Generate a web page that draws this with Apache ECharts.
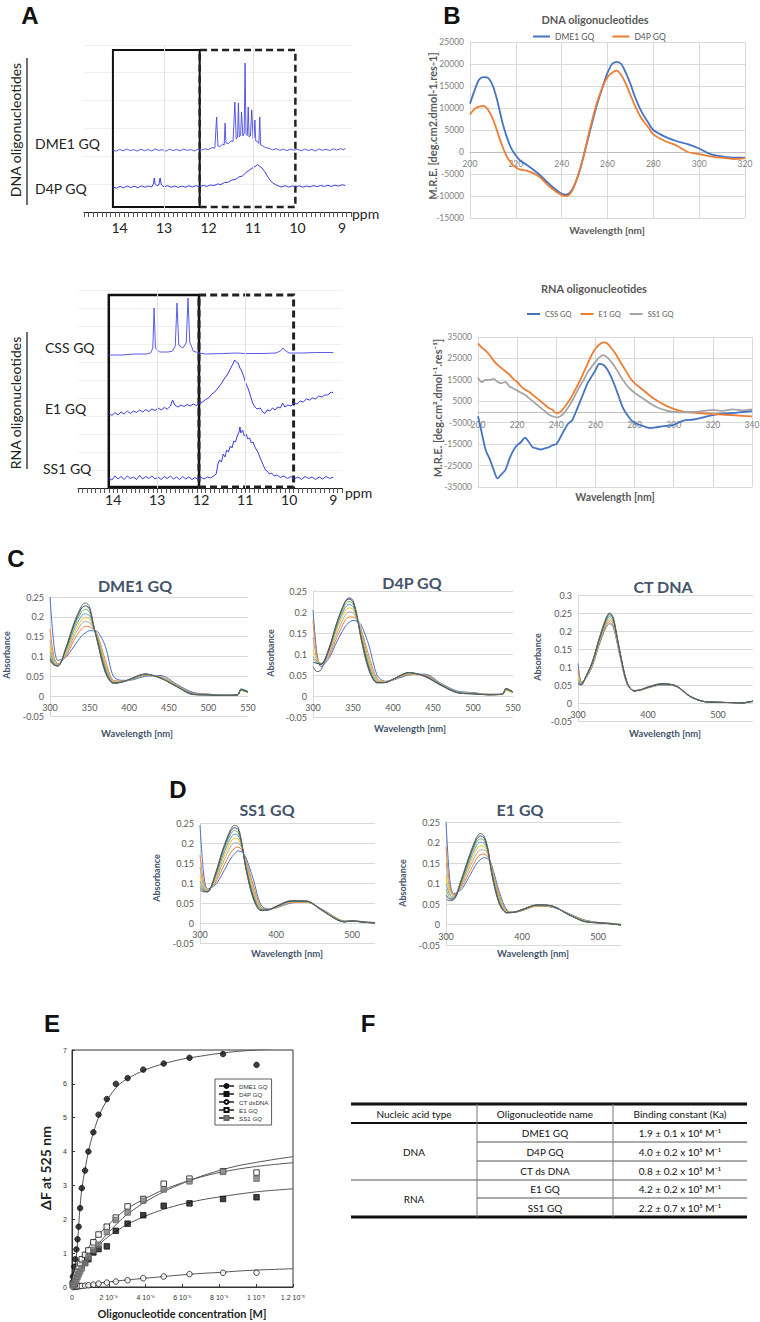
<!DOCTYPE html>
<html>
<head>
<meta charset="utf-8">
<title>G-quadruplex binding figure</title>
<script src="https://cdn.jsdelivr.net/npm/echarts@6/dist/echarts.min.js"></script>
<style>
  html, body { margin: 0; padding: 0; background: #fff; }
  #page { position: relative; width: 760px; height: 1322px; overflow: hidden; }
  .layer { position: absolute; left: 0; top: 0; width: 760px; height: 1322px; }
</style>
</head>
<body>
<div id="page"></div>
<script>
// ---------- A: 1H NMR imino region, [ppm, intensity a.u.] ----------
const nmrDme1 = [[14.15,62],[14.08,60.8],[14.0,62.6],[13.92,61.2],[13.84,63],[13.76,61.4],[13.68,62.4],[13.6,60.9],[13.52,62.8],[13.44,61.3],[13.36,62.5],[13.28,61],[13.2,63.1],[13.12,61.5],[13.04,62.3],[12.96,60.8],[12.88,62.9],[12.8,61.4],[12.72,62.6],[12.64,61.1],[12.56,63],[12.48,61.6],[12.4,62.4],[12.32,61],[12.24,62.8],[12.16,61.7],[12.08,63.2],[12.0,62.4],[11.92,64.5],[11.86,63.8],[11.82,95],[11.79,66],[11.74,65.5],[11.68,68],[11.65,67],[11.63,89],[11.61,69],[11.55,68.5],[11.5,71],[11.45,70.5],[11.41,110],[11.38,73],[11.35,74.5],[11.33,109],[11.31,75],[11.28,77],[11.26,100],[11.23,76],[11.2,79],[11.18,149],[11.16,78],[11.13,76.5],[11.11,105],[11.09,75],[11.06,76],[11.03,102],[11.0,73],[10.98,74],[10.96,92],[10.94,71],[10.9,70.5],[10.87,68.5],[10.85,95],[10.83,67],[10.78,66],[10.72,64.5],[10.64,63.6],[10.56,62.2],[10.48,63.4],[10.4,61.6],[10.32,62.9],[10.24,61.3],[10.16,63],[10.08,61.8],[10.0,62.7],[9.92,61.2],[9.84,62.9],[9.76,61.5],[9.68,62.6],[9.6,61],[9.52,63],[9.44,61.7],[9.36,62.8],[9.28,61.4],[9.2,63.2],[9.12,61.8],[9.04,63.4],[8.96,62.2],[8.93,64]]
const nmrD4p = [[14.15,25],[14.07,23.8],[13.99,25.6],[13.91,24.2],[13.83,26],[13.75,24.5],[13.67,25.8],[13.59,24.3],[13.51,26.1],[13.43,24.8],[13.35,26],[13.28,25],[13.24,28],[13.22,34],[13.2,28],[13.16,26.2],[13.12,27],[13.09,34],[13.06,27],[13.0,25.2],[12.92,26.3],[12.84,24.7],[12.76,26],[12.68,24.6],[12.6,25.9],[12.52,24.8],[12.44,26.2],[12.36,25],[12.28,26.4],[12.2,25.2],[12.12,26.6],[12.04,25.6],[11.96,27],[11.88,26.5],[11.8,28],[11.72,27.5],[11.64,29.5],[11.56,29.8],[11.48,32],[11.4,32.5],[11.32,35],[11.24,36],[11.16,39.5],[11.08,42],[11.0,44.5],[10.94,46],[10.9,47.5],[10.86,46],[10.8,44],[10.74,40.5],[10.68,36],[10.62,32],[10.56,29],[10.5,27.5],[10.44,26.2],[10.36,25],[10.28,26.3],[10.2,24.9],[10.12,26.1],[10.04,25],[9.96,26.2],[9.88,24.8],[9.8,26],[9.72,25.1],[9.64,26.4],[9.56,25.3],[9.48,26.6],[9.4,25.5],[9.32,26.7],[9.24,25.6],[9.16,26.8],[9.08,25.9],[9.0,27.2],[8.93,26.5]]
const nmrCss = [[14.1,133],[13.8,133],[13.5,134],[13.25,134],[13.15,135],[13.1,140],[13.07,180],[13.04,140],[12.95,136],[12.75,136],[12.65,137],[12.59,142],[12.55,185],[12.51,143],[12.42,140],[12.34,145],[12.3,190],[12.26,146],[12.18,137],[12.05,135],[11.9,134],[11.5,134.5],[11.2,135],[11.0,134.5],[10.6,134.5],[10.3,135],[10.2,137],[10.14,140],[10.08,137],[10.0,135],[9.7,135],[9.4,135.5],[9.0,135.5]]
const nmrE1 = [[14.1,75],[14.03,72.5],[13.96,75.5],[13.89,73],[13.82,76],[13.75,74],[13.68,77],[13.61,74.5],[13.54,77],[13.47,75.5],[13.4,78],[13.33,76],[13.26,78.5],[13.19,76.5],[13.12,79],[13.05,77.5],[12.98,80],[12.91,78],[12.84,80.5],[12.77,79],[12.7,82],[12.65,88],[12.6,83],[12.53,81],[12.46,83],[12.39,81.5],[12.32,83.5],[12.25,82],[12.18,84],[12.11,82.5],[12.04,85],[11.97,86],[11.9,88.5],[11.83,90],[11.76,94],[11.69,96],[11.62,100],[11.55,104],[11.48,109],[11.41,113],[11.34,119],[11.28,124],[11.24,128],[11.2,126],[11.16,125],[11.12,120],[11.08,117],[11.03,111],[10.98,104],[10.93,99],[10.88,92],[10.83,85],[10.78,81],[10.73,79],[10.66,80],[10.6,76],[10.55,74.5],[10.5,78],[10.44,77],[10.38,80],[10.32,78],[10.26,81],[10.2,80],[10.15,85],[10.1,81],[10.03,83],[9.96,82],[9.89,85],[9.82,84],[9.75,87],[9.68,86],[9.61,89],[9.54,88],[9.47,90],[9.4,89],[9.33,92],[9.26,91],[9.19,93],[9.12,93],[9.05,96],[9.0,95]]
const nmrSs1 = [[14.1,10],[14.03,8],[13.96,12],[13.89,9],[13.82,11.5],[13.75,8.5],[13.68,12],[13.61,9.5],[13.54,11],[13.47,8.5],[13.4,12.5],[13.33,9],[13.26,11.5],[13.19,9.5],[13.12,12],[13.05,9],[12.98,11],[12.91,8.5],[12.84,11.5],[12.77,9.5],[12.7,12],[12.63,9],[12.56,11],[12.49,8.5],[12.42,11.5],[12.35,9],[12.28,11],[12.21,8.5],[12.14,10.5],[12.07,8.5],[12.0,10.5],[11.93,9],[11.86,11],[11.79,10],[11.72,12],[11.66,14],[11.62,24],[11.58,28],[11.54,26],[11.5,34],[11.46,31],[11.42,38],[11.38,36],[11.34,42],[11.3,40],[11.26,47],[11.22,46],[11.18,52],[11.14,56],[11.12,61],[11.1,55],[11.06,58],[11.02,52],[10.98,54],[10.94,49],[10.9,50],[10.86,45],[10.82,46],[10.78,41],[10.74,38],[10.7,35],[10.66,30],[10.62,26],[10.58,22],[10.54,18],[10.5,17],[10.45,14],[10.4,15],[10.34,12],[10.28,13],[10.2,10.5],[10.12,12],[10.04,9.5],[9.96,11.5],[9.88,9],[9.8,11],[9.72,8.5],[9.64,11.5],[9.56,9.5],[9.48,11],[9.4,8.5],[9.32,11],[9.24,9],[9.16,11.5],[9.08,9.5],[9.0,11]]

// ---------- B: CD spectra, M.R.E. ----------
const cdDnaWl = [200,202,204,206,208,210,212,214,216,218,220,222,225,230,235,240,242,244,246,248,250,252,255,258,260,262,264,266,268,270,272,275,278,280,285,290,295,300,305,310,315,320]
const cdDme1 = [11000,14000,16500,17000,16800,15000,11500,7000,3500,800,-800,-2000,-3000,-5000,-7500,-9500,-9700,-9000,-7000,-4000,0,4000,10000,15000,18000,20000,20500,20000,18000,15500,12500,9000,6500,5000,3500,2500,1800,800,-500,-1000,-1300,-1300]
const cdD4p = [8500,9800,10300,10500,9500,7500,4500,1500,-1000,-2500,-3500,-4000,-4300,-5500,-8000,-9800,-10000,-9300,-7000,-4000,0,4500,10500,15000,17000,18000,18500,17500,15500,13000,10500,7500,5500,4000,2500,1500,0,-500,-1000,-1300,-1600,-1400]
const cdRnaWl = [200,202,204,206,208,210,212,214,216,218,220,222,224,226,228,230,232,234,236,238,240,242,244,246,248,250,252,254,256,258,260,262,264,266,268,270,272,274,276,278,280,284,288,292,296,300,305,310,315,320,325,330,335,340]
const cdCss = [-2000,-10000,-18000,-22000,-27000,-31000,-29000,-27000,-22000,-18000,-15500,-14000,-12000,-14000,-16500,-17000,-17500,-17000,-16500,-15500,-15000,-12000,-8500,-5500,-4000,0,4500,9000,13500,16500,19500,22500,22000,20000,16500,12000,7000,2000,-1000,-3500,-5000,-6500,-7500,-7000,-6500,-6000,-4000,-3500,-2500,-1500,-800,-500,0,500]
const cdE1 = [32000,30000,28500,26500,24000,22000,20500,19000,17500,15500,14000,12000,10500,9500,8000,6500,5000,3500,2000,1000,-500,0,2000,4500,7500,11000,14500,18500,22500,26500,29500,31500,32500,32000,30000,27500,24500,21500,18500,15500,13500,10500,7500,5000,3000,1500,200,-300,-600,-1000,-1200,-1500,-1800,-2000]
const cdSs1 = [16000,14000,15000,15000,15500,14000,13500,14000,12000,11000,10000,9000,8000,6500,5000,3500,2000,500,-1000,-2000,-2500,-2000,-500,2000,5000,8500,12000,15000,18500,21000,23500,25500,26500,25500,23500,21000,18000,15000,12500,10500,9000,6500,4000,2000,800,0,-200,0,500,1000,500,1200,800,1200]

// ---------- C / D: UV-vis titrations, absorbance ----------
const wlC = [300,305,310,320,330,340,345,350,355,360,370,380,390,400,420,440,460,480,500,520,537,541,550]
const uvDme1 = [
  [0.250,0.130,0.090,0.098,0.125,0.152,0.160,0.165,0.165,0.163,0.125,0.050,0.040,0.040,0.050,0.052,0.030,0.010,0.005,0.003,0.004,0.018,0.012],
  [0.170,0.100,0.082,0.100,0.140,0.170,0.176,0.175,0.168,0.155,0.090,0.040,0.038,0.040,0.052,0.049,0.028,0.008,0.005,0.002,0.003,0.016,0.010],
  [0.140,0.092,0.080,0.105,0.150,0.183,0.188,0.185,0.170,0.150,0.080,0.038,0.037,0.040,0.053,0.048,0.027,0.007,0.004,0.002,0.003,0.015,0.010],
  [0.125,0.087,0.078,0.110,0.158,0.193,0.198,0.193,0.172,0.147,0.075,0.036,0.036,0.041,0.054,0.047,0.026,0.006,0.004,0.002,0.003,0.014,0.009],
  [0.112,0.084,0.077,0.114,0.166,0.203,0.208,0.202,0.174,0.144,0.070,0.035,0.036,0.041,0.055,0.046,0.025,0.006,0.004,0.002,0.003,0.015,0.010],
  [0.102,0.081,0.076,0.117,0.173,0.213,0.219,0.211,0.176,0.141,0.066,0.034,0.035,0.042,0.055,0.046,0.025,0.005,0.003,0.002,0.003,0.016,0.010],
  [0.095,0.079,0.076,0.120,0.179,0.222,0.228,0.219,0.178,0.138,0.062,0.033,0.035,0.042,0.056,0.045,0.024,0.005,0.003,0.002,0.003,0.017,0.011],
  [0.090,0.078,0.077,0.122,0.183,0.228,0.235,0.225,0.180,0.135,0.058,0.032,0.035,0.042,0.056,0.045,0.024,0.004,0.003,0.002,0.003,0.018,0.011]
]
const uvD4p = [
  [0.205,0.100,0.070,0.090,0.130,0.165,0.175,0.180,0.178,0.170,0.120,0.050,0.035,0.038,0.050,0.052,0.030,0.012,0.008,0.004,0.004,0.015,0.008],
  [0.180,0.095,0.075,0.095,0.140,0.180,0.188,0.188,0.180,0.160,0.095,0.042,0.034,0.038,0.051,0.050,0.029,0.010,0.007,0.004,0.004,0.014,0.008],
  [0.140,0.088,0.078,0.100,0.150,0.192,0.200,0.198,0.182,0.155,0.085,0.038,0.033,0.038,0.052,0.049,0.028,0.010,0.007,0.004,0.004,0.013,0.008],
  [0.110,0.085,0.078,0.105,0.160,0.202,0.210,0.206,0.184,0.150,0.078,0.036,0.033,0.039,0.053,0.048,0.027,0.009,0.006,0.003,0.004,0.014,0.008],
  [0.095,0.082,0.077,0.108,0.166,0.210,0.218,0.213,0.186,0.146,0.072,0.034,0.032,0.039,0.054,0.048,0.027,0.009,0.006,0.003,0.004,0.016,0.009],
  [0.088,0.080,0.076,0.111,0.171,0.217,0.225,0.219,0.188,0.142,0.068,0.033,0.032,0.040,0.055,0.047,0.026,0.008,0.006,0.003,0.004,0.017,0.009],
  [0.080,0.078,0.075,0.114,0.176,0.223,0.231,0.224,0.190,0.139,0.064,0.032,0.032,0.040,0.056,0.047,0.026,0.008,0.005,0.003,0.005,0.018,0.010],
  [0.070,0.058,0.062,0.110,0.175,0.225,0.234,0.228,0.192,0.136,0.060,0.031,0.032,0.040,0.056,0.046,0.025,0.008,0.005,0.003,0.005,0.018,0.010]
]
const uvCtDna = [
  [0.110,0.058,0.065,0.100,0.160,0.210,0.220,0.212,0.175,0.130,0.052,0.035,0.036,0.042,0.050,0.046,0.018,0.004,0.002,0.001,0.000,0.002,0.004],
  [0.095,0.056,0.066,0.102,0.163,0.214,0.225,0.216,0.178,0.132,0.053,0.035,0.036,0.042,0.051,0.046,0.018,0.004,0.002,0.001,0.000,0.002,0.004],
  [0.085,0.055,0.066,0.104,0.166,0.218,0.230,0.221,0.181,0.134,0.054,0.034,0.036,0.043,0.051,0.047,0.018,0.004,0.002,0.001,0.000,0.002,0.004],
  [0.075,0.054,0.067,0.106,0.168,0.222,0.235,0.225,0.184,0.136,0.055,0.034,0.037,0.043,0.052,0.047,0.018,0.004,0.002,0.001,0.000,0.002,0.005],
  [0.065,0.053,0.067,0.108,0.171,0.226,0.240,0.230,0.187,0.138,0.056,0.034,0.037,0.044,0.052,0.047,0.018,0.004,0.002,0.001,0.000,0.002,0.005],
  [0.060,0.052,0.068,0.110,0.174,0.230,0.244,0.234,0.190,0.140,0.057,0.034,0.037,0.044,0.053,0.047,0.019,0.004,0.002,0.001,0.000,0.002,0.005],
  [0.055,0.051,0.068,0.111,0.176,0.233,0.248,0.237,0.192,0.141,0.058,0.033,0.037,0.044,0.053,0.048,0.019,0.004,0.002,0.001,0.000,0.002,0.005],
  [0.052,0.050,0.069,0.112,0.178,0.236,0.250,0.240,0.194,0.142,0.058,0.033,0.037,0.045,0.054,0.048,0.019,0.004,0.002,0.001,0.000,0.002,0.005]
]
const wlD = [300,305,310,320,330,340,345,350,355,360,370,380,390,400,420,440,460,480,490,500,515,530]
const uvSs1 = [
  [0.245,0.120,0.085,0.095,0.125,0.160,0.172,0.180,0.178,0.165,0.110,0.045,0.035,0.038,0.050,0.052,0.035,0.012,0.005,0.006,0.003,0.001],
  [0.170,0.100,0.082,0.100,0.138,0.175,0.186,0.190,0.182,0.160,0.095,0.040,0.034,0.038,0.051,0.052,0.034,0.011,0.004,0.006,0.003,0.001],
  [0.140,0.092,0.080,0.105,0.150,0.190,0.200,0.200,0.186,0.155,0.085,0.037,0.034,0.039,0.052,0.053,0.034,0.010,0.004,0.005,0.003,0.000],
  [0.120,0.088,0.079,0.110,0.160,0.202,0.212,0.210,0.189,0.150,0.078,0.035,0.033,0.040,0.053,0.053,0.033,0.010,0.003,0.005,0.002,0.000],
  [0.105,0.085,0.079,0.114,0.168,0.212,0.222,0.219,0.192,0.146,0.072,0.034,0.033,0.040,0.054,0.054,0.033,0.009,0.003,0.005,0.002,0.000],
  [0.095,0.082,0.078,0.117,0.175,0.221,0.231,0.227,0.195,0.143,0.068,0.033,0.033,0.041,0.055,0.054,0.032,0.009,0.003,0.005,0.002,0.000],
  [0.088,0.080,0.078,0.120,0.181,0.228,0.238,0.234,0.198,0.140,0.064,0.032,0.033,0.041,0.055,0.055,0.032,0.008,0.003,0.005,0.002,0.000],
  [0.082,0.078,0.078,0.122,0.185,0.233,0.244,0.240,0.200,0.138,0.060,0.031,0.033,0.042,0.056,0.055,0.032,0.008,0.003,0.005,0.002,0.000]
]
const uvE1 = [
  [0.250,0.110,0.075,0.085,0.115,0.148,0.158,0.163,0.160,0.145,0.080,0.035,0.030,0.034,0.045,0.042,0.028,0.012,0.008,0.005,0.003,0.000],
  [0.190,0.095,0.072,0.090,0.125,0.160,0.170,0.172,0.165,0.142,0.072,0.033,0.030,0.034,0.045,0.043,0.027,0.011,0.007,0.005,0.003,0.000],
  [0.150,0.085,0.070,0.094,0.135,0.172,0.182,0.182,0.170,0.138,0.066,0.032,0.030,0.035,0.046,0.043,0.027,0.010,0.007,0.004,0.003,0.000],
  [0.120,0.078,0.068,0.098,0.143,0.182,0.192,0.190,0.174,0.135,0.062,0.031,0.030,0.035,0.046,0.044,0.026,0.010,0.006,0.004,0.002,0.000],
  [0.100,0.072,0.066,0.101,0.150,0.192,0.201,0.198,0.178,0.132,0.058,0.030,0.030,0.036,0.047,0.044,0.026,0.009,0.006,0.004,0.002,-0.001],
  [0.085,0.066,0.064,0.104,0.156,0.200,0.209,0.205,0.181,0.129,0.055,0.029,0.030,0.036,0.047,0.045,0.025,0.009,0.006,0.004,0.002,-0.001],
  [0.072,0.062,0.062,0.107,0.161,0.207,0.216,0.211,0.184,0.126,0.052,0.029,0.030,0.036,0.048,0.045,0.025,0.008,0.005,0.004,0.002,-0.001],
  [0.062,0.058,0.060,0.109,0.165,0.212,0.222,0.216,0.186,0.124,0.050,0.028,0.030,0.037,0.048,0.045,0.025,0.008,0.005,0.004,0.002,-0.002]
]

// ---------- E: fluorescence titration, concentration in 1e-6 M ----------
const eConc = [0.05,0.12,0.18,0.24,0.30,0.36,0.44,0.53,0.71,0.89,1.16,1.44,1.89,2.38,3.02,3.87,4.98,6.38,8.2,10.02]
const eDme1 = [0.31,0.6,0.82,1.11,1.41,1.78,2.33,2.92,3.44,4.0,4.57,5.09,5.55,6.0,6.17,6.42,6.6,6.77,6.88,6.56]
const eD4p = [0.1,0.2,0.28,0.36,0.43,0.5,0.58,0.65,0.72,0.82,1.02,1.12,1.2,1.66,1.87,2.12,2.4,2.47,2.6,2.65]
const eCt = [0.0,0.0,0.01,0.01,0.02,0.02,0.03,0.03,0.04,0.05,0.07,0.1,0.13,0.16,0.2,0.26,0.31,0.38,0.42,0.42]
const eE1 = [0.1,0.22,0.32,0.42,0.52,0.6,0.7,0.82,0.95,1.08,1.32,1.55,1.78,2.05,2.38,2.6,3.05,3.2,3.42,3.38]
const eSs1 = [0.05,0.1,0.16,0.22,0.3,0.38,0.46,0.55,0.7,0.88,1.1,1.25,1.62,1.98,2.2,2.55,2.88,3.12,3.4,3.2]
const eFitX = [0,0.25,0.5,0.75,1,1.5,2,2.5,3,4,5,6,7,8,9,10,11,12]
const eFitDme1 = [0,1.0,2.75,3.6,4.25,5.1,5.6,5.95,6.15,6.42,6.6,6.73,6.82,6.9,6.96,7.0,7.05,7.1]
const eFitD4p = [0,0.33,0.6,0.8,0.98,1.27,1.5,1.68,1.85,2.1,2.3,2.45,2.57,2.66,2.74,2.81,2.86,2.9]
const eFitCt = [0,0.02,0.04,0.06,0.08,0.12,0.15,0.18,0.21,0.26,0.31,0.36,0.4,0.43,0.47,0.5,0.52,0.54]
const eFitE1 = [0,0.45,0.78,1.05,1.25,1.58,1.85,2.1,2.32,2.62,2.88,3.08,3.25,3.38,3.48,3.56,3.62,3.67]
const eFitSs1 = [0,0.25,0.5,0.75,0.97,1.32,1.62,1.9,2.15,2.52,2.82,3.06,3.27,3.44,3.58,3.68,3.77,3.85]
const eTickLabels = ['0', '2 10⁻⁶', '4 10⁻⁶', '6 10⁻⁶', '8 10⁻⁶', '1 10⁻⁵', '1.2 10⁻⁵']

// ---------- F: binding constants ----------
const tableHead = ['Nucleic acid type', 'Oligonucleotide name', 'Binding constant (Ka)']
const tableGroups = ['DNA', 'RNA']
const tableGroupRows = [3, 2]
const tableNames = ['DME1 GQ', 'D4P GQ', 'CT ds DNA', 'E1 GQ', 'SS1 GQ']
const tableKa = ['1.9 ± 0.1 x 10⁶ M⁻¹', '4.0 ± 0.2 x 10⁵ M⁻¹', '0.8 ± 0.2 x 10⁵ M⁻¹', '4.2 ± 0.2 x 10⁵ M⁻¹', '2.2 ± 0.7 x 10⁵ M⁻¹']

const uvColors = ['#4472C4', '#ED7D31', '#A5A5A5', '#FFC000', '#5B9BD5', '#70AD47', '#264478', '#636363']
const LATO = 'Lato, "Open Sans", sans-serif'
const ARIAL = '"Liberation Sans", Arial, sans-serif'

const page = document.getElementById('page')

const addLayer = (option) => {
  const el = document.createElement('div')
  el.className = 'layer'
  page.appendChild(el)
  const chart = echarts.init(el, null, { renderer: 'svg' })
  chart.setOption(Object.assign({ animation: false }, option))
  return chart
}

const txt = (text, x, y, size, o = {}) => ({
  type: 'text', x, y, rotation: o.rot ? Math.PI / 2 : 0, silent: true, z: 20,
  style: {
    text, x: 0, y: 0,
    font: (o.bold ? 'bold ' : '') + size + 'px ' + (o.family || LATO),
    fill: o.color || '#222',
    textAlign: o.align || 'center',
    verticalAlign: 'middle', textVerticalAlign: 'middle'
  }
})

const rule = (x1, y1, x2, y2, width, color) => ({
  type: 'line', silent: true, z: 20,
  shape: { x1, y1, x2, y2 },
  style: { stroke: color || '#111', lineWidth: width }
})

const letter = (t, x, y) => txt(t, x, y, 24, { bold: true, family: ARIAL, color: '#111' })

// ---------- layer A ----------
const nmrX = (gridIndex, margin) => ({
  type: 'value', gridIndex, inverse: true, min: 8.8, max: 14.8, interval: 0.1,
  axisLine: { lineStyle: { color: '#222', width: 1 } },
  axisTick: { length: 5, lineStyle: { color: '#555' } },
  axisLabel: {
    margin, color: '#222', fontSize: 14, fontFamily: LATO,
    formatter: (v) => (Math.abs(v - Math.round(v)) < 0.02 ? String(Math.round(v)) : '')
  },
  splitLine: { show: false }
})
const nmrY = (gridIndex, max, interval) => ({
  type: 'value', gridIndex, min: 0, max, interval,
  axisLine: { show: false }, axisTick: { show: false }, axisLabel: { show: false },
  splitLine: { show: true, lineStyle: { color: '#efefef' } }
})

const boxStyle = { color: 'rgba(0,0,0,0)', borderColor: '#111', borderWidth: 2 }
const dashStyle = { color: 'rgba(0,0,0,0)', borderColor: '#222', borderWidth: 2.5, borderType: [7, 4] }
const faintVerticals = {
  silent: true, symbol: 'none', label: { show: false },
  lineStyle: { color: '#e2e2e2', type: 'solid', width: 1 },
  data: [{ xAxis: 13 }, { xAxis: 11 }]
}

const trace = (data, xi, extra) => Object.assign({
  type: 'line', xAxisIndex: xi, yAxisIndex: xi, data, showSymbol: false, silent: true,
  lineStyle: { color: '#3a3ae2', width: 1 }, itemStyle: { color: '#3a3ae2' }
}, extra || {})

addLayer({
  grid: [
    { left: 84, top: 45, width: 267, height: 167, outerBoundsMode: 'none' },
    { left: 78, top: 290, width: 264, height: 198, outerBoundsMode: 'none' }
  ],
  xAxis: [nmrX(0, 8), nmrX(1, 4)],
  yAxis: [nmrY(0, 167, 28), nmrY(1, 198, 18)],
  series: [
    trace(nmrDme1, 0, {
      lineStyle: { color: '#4747e4', width: 0.9 },
      markLine: faintVerticals,
      markArea: {
        silent: true,
        data: [
          [{ xAxis: 14.15, yAxis: 5, itemStyle: boxStyle }, { xAxis: 12.2, yAxis: 162 }],
          [{ xAxis: 12.2, yAxis: 5, itemStyle: dashStyle }, { xAxis: 10.05, yAxis: 162 }]
        ]
      }
    }),
    trace(nmrD4p, 0),
    trace(nmrCss, 1, {
      lineStyle: { color: '#5a5aee', width: 1 },
      markLine: faintVerticals,
      markArea: {
        silent: true,
        data: [
          [{ xAxis: 14.1, yAxis: 1, itemStyle: Object.assign({}, boxStyle, { borderWidth: 2.5 }) }, { xAxis: 12.05, yAxis: 193 }],
          [{ xAxis: 12.05, yAxis: 1, itemStyle: Object.assign({}, dashStyle, { borderWidth: 3 }) }, { xAxis: 9.9, yAxis: 193 }]
        ]
      }
    }),
    trace(nmrE1, 1),
    trace(nmrSs1, 1)
  ],
  graphic: [
    letter('A', 30, 15),
    txt('DNA oligonucleotides', 15, 130, 14, { rot: true }),
    rule(27, 58, 27, 205, 1.2),
    txt('DME1 GQ', 35, 143, 14, { align: 'left' }),
    txt('D4P GQ', 35, 188, 14, { align: 'left' }),
    txt('ppm', 352, 213, 14, { align: 'left' }),
    txt('RNA oligonucleotides', 15, 403, 14, { rot: true }),
    rule(27, 332, 27, 469, 1.2),
    txt('CSS GQ', 45, 347, 14, { align: 'left' }),
    txt('E1 GQ', 45, 408, 14, { align: 'left' }),
    txt('SS1 GQ', 43, 468, 14, { align: 'left' }),
    txt('ppm', 345, 492, 14, { align: 'left' })
  ]
})

// ---------- layer B ----------
// x axis drawn on the zero line (Excel style): shifted up from the grid bottom
const excelX = (gridIndex, min, max, interval, fontSize, split, showMax, zeroPx, margin) => ({
  type: 'value', gridIndex, min, max, interval, offset: -zeroPx,
  axisLine: { onZero: false, lineStyle: { color: '#bfbfbf' } },
  axisTick: { show: false },
  axisLabel: { color: '#7f7f7f', fontSize, fontFamily: LATO, margin, showMaxLabel: showMax !== false },
  splitLine: { show: !!split, lineStyle: { color: '#d9d9d9' } }
})
const excelY = (gridIndex, min, max, interval, fontSize, formatter) => ({
  type: 'value', gridIndex, min, max, interval,
  axisLine: { show: true, onZero: false, lineStyle: { color: '#d9d9d9' } },
  axisTick: { show: false },
  axisLabel: { color: '#7f7f7f', fontSize, fontFamily: LATO, margin: 6, formatter },
  splitLine: { show: true, lineStyle: { color: '#d9d9d9' } }
})
const plain = (v) => String(Math.round(v))
const cdLine = (name, wl, vals, color, gi) => ({
  name, type: 'line', xAxisIndex: gi, yAxisIndex: gi, showSymbol: false, smooth: 0.3, silent: true,
  data: wl.map((w, i) => [w, vals[i]]),
  lineStyle: { color, width: 1.8 }, itemStyle: { color }
})

addLayer({
  grid: [
    { left: 470, top: 42, width: 275, height: 176, outerBoundsMode: 'none' },
    { left: 478, top: 337, width: 274, height: 150, outerBoundsMode: 'none' }
  ],
  xAxis: [
    excelX(0, 200, 320, 20, 8.5, true, true, 176 * 15 / 40, 7),
    excelX(1, 200, 340, 20, 8.5, true, true, 150 * 35 / 70, 8)
  ],
  yAxis: [excelY(0, -15000, 25000, 5000, 8.5, plain), excelY(1, -35000, 35000, 10000, 8.5, plain)],
  legend: [
    {
      data: ['DME1 GQ', 'D4P GQ'], left: 528, top: 27, icon: 'rect', itemWidth: 17, itemHeight: 2,
      itemGap: 18, selectedMode: false, textStyle: { fontSize: 8.5, color: '#595959', fontFamily: LATO }
    },
    {
      data: ['CSS GQ', 'E1 GQ', 'SS1 GQ'], left: 522, top: 305, icon: 'rect', itemWidth: 13, itemHeight: 2,
      itemGap: 9, selectedMode: false, textStyle: { fontSize: 7.5, color: '#595959', fontFamily: LATO }
    }
  ],
  series: [
    cdLine('DME1 GQ', cdDnaWl, cdDme1, '#4472C4', 0),
    cdLine('D4P GQ', cdDnaWl, cdD4p, '#ED7D31', 0),
    cdLine('CSS GQ', cdRnaWl, cdCss, '#4472C4', 1),
    cdLine('E1 GQ', cdRnaWl, cdE1, '#ED7D31', 1),
    cdLine('SS1 GQ', cdRnaWl, cdSs1, '#A5A5A5', 1)
  ],
  graphic: [
    letter('B', 452, 15),
    txt('DNA oligonucleotides', 595, 19, 11, { bold: true, color: '#595959' }),
    txt('M.R.E. [deg.cm2.dmol-1.res-1]', 432, 126, 11, { bold: true, color: '#595959', rot: true }),
    txt('Wavelength [nm]', 607, 230, 10, { bold: true, color: '#595959' }),
    txt('RNA oligonucleotides', 594, 288, 11, { bold: true, color: '#595959' }),
    txt('M.R.E. [deg.cm².dmol⁻¹.res⁻¹]', 437, 408, 11, { bold: true, color: '#595959', rot: true }),
    txt('Wavelength [nm]', 615, 497, 10.5, { bold: true, color: '#595959' })
  ]
})

// ---------- layer C / D ----------
const uvPanels = [
  { wl: wlC, curves: uvDme1, grid: { left: 50, top: 597, width: 198, height: 119 }, x: [300, 550, 50], y: [-0.05, 0.25] },
  { wl: wlC, curves: uvD4p, grid: { left: 313, top: 591, width: 200, height: 126 }, x: [300, 550, 50], y: [-0.05, 0.25] },
  { wl: wlC, curves: uvCtDna, grid: { left: 578, top: 595, width: 175, height: 126 }, x: [300, 550, 100], y: [-0.05, 0.3] },
  { wl: wlD, curves: uvSs1, grid: { left: 200, top: 823, width: 175, height: 120 }, x: [300, 530, 100], y: [-0.05, 0.25] },
  { wl: wlD, curves: uvE1, grid: { left: 446, top: 822, width: 175, height: 123 }, x: [300, 530, 100], y: [-0.05, 0.25] }
]
const uvX = (p, i) => {
  const zeroPx = p.grid.height * (0 - p.y[0]) / (p.y[1] - p.y[0])
  const ax = excelX(i, p.x[0], p.x[1], p.x[2], 9, false, p.x[2] === 50, zeroPx, 7)
  ax.axisLine.lineStyle.color = '#d9d9d9'
  ax.axisLabel.color = '#595959'
  return ax
}
const uvY = (p, i) => {
  const ax = excelY(i, p.y[0], p.y[1], 0.05, 9)
  ax.axisLabel.color = '#595959'
  return ax
}
const uvSeries = []
uvPanels.forEach((p, gi) => {
  p.curves.forEach((c, ci) => {
    uvSeries.push({
      type: 'line', xAxisIndex: gi, yAxisIndex: gi, showSymbol: false, smooth: 0.3, silent: true,
      data: p.wl.map((w, i) => [w, c[i]]),
      lineStyle: { color: uvColors[ci], width: 1 }, itemStyle: { color: uvColors[ci] }
    })
  })
})
const uvTitle = (t, x, y) => txt(t, x, y, 16, { bold: true, color: '#44546A' })
const absLabel = (x, y) => txt('Absorbance', x, y, 9, { bold: true, color: '#44546A', rot: true })
const wlLabel = (x, y) => txt('Wavelength [nm]', x, y, 9.5, { bold: true, color: '#44546A' })

addLayer({
  grid: uvPanels.map((p) => Object.assign({ outerBoundsMode: 'none' }, p.grid)),
  xAxis: uvPanels.map(uvX),
  yAxis: uvPanels.map(uvY),
  series: uvSeries,
  graphic: [
    letter('C', 16, 558),
    letter('D', 178, 789),
    uvTitle('DME1 GQ', 135, 585), uvTitle('D4P GQ', 412, 582), uvTitle('CT DNA', 663, 586),
    uvTitle('SS1 GQ', 267, 809), uvTitle('E1 GQ', 520, 809),
    absLabel(6, 655), absLabel(270, 653), absLabel(537, 657), absLabel(156, 878), absLabel(402, 883),
    wlLabel(137, 733), wlLabel(410, 728), wlLabel(665, 733), wlLabel(287, 953), wlLabel(533, 953)
  ]
})

// ---------- layer E ----------
const eSamples = [
  { name: 'DME1 GQ', pts: eDme1, fit: eFitDme1, symbol: 'circle', fill: '#111', border: '#111' },
  { name: 'D4P GQ', pts: eD4p, fit: eFitD4p, symbol: 'rect', fill: '#111', border: '#111' },
  { name: 'CT dsDNA', pts: eCt, fit: eFitCt, symbol: 'circle', fill: '#fff', border: '#111' },
  { name: 'E1 GQ', pts: eE1, fit: eFitE1, symbol: 'rect', fill: '#fff', border: '#111' },
  { name: 'SS1 GQ', pts: eSs1, fit: eFitSs1, symbol: 'rect', fill: '#808080', border: '#666' }
]
const eSeries = []
eSamples.forEach((s) => {
  const itemStyle = { color: s.fill, borderColor: s.border, borderWidth: 1 }
  eSeries.push({
    name: s.name, type: 'line', symbol: s.symbol, symbolSize: 5, showSymbol: false, smooth: 0.3, silent: true,
    data: eFitX.map((x, i) => [x, s.fit[i]]),
    lineStyle: { color: '#555', width: 1 }, itemStyle
  })
  eSeries.push({
    name: s.name, type: 'scatter', symbol: s.symbol, symbolSize: 5.5, silent: true, z: 5,
    data: eConc.map((x, i) => [x, s.pts[i]]), itemStyle
  })
})

addLayer({
  grid: { left: 72, top: 1050, width: 221, height: 237, show: true, borderColor: '#333', borderWidth: 1, outerBoundsMode: 'none' },
  xAxis: {
    type: 'value', min: 0, max: 12, interval: 2,
    axisLine: { lineStyle: { color: '#333' } },
    axisTick: { inside: true, length: 3, lineStyle: { color: '#333' } },
    axisLabel: { fontSize: 7, color: '#333', fontFamily: ARIAL, margin: 7, formatter: (v) => eTickLabels[Math.round(v / 2)] },
    splitLine: { show: false }
  },
  yAxis: {
    type: 'value', min: 0, max: 7, interval: 1,
    axisLine: { show: true, lineStyle: { color: '#333' } },
    axisTick: { inside: true, length: 3, lineStyle: { color: '#333' } },
    axisLabel: { fontSize: 7, color: '#333', fontFamily: ARIAL, margin: 5 },
    splitLine: { show: false }
  },
  legend: {
    data: eSamples.map((s) => s.name), orient: 'vertical', left: 215, top: 1079,
    padding: [4, 3], itemGap: 2, itemWidth: 15, itemHeight: 5, selectedMode: false,
    borderColor: '#333', borderWidth: 0.8, backgroundColor: '#fff',
    textStyle: { fontSize: 6.2, color: '#333', fontFamily: ARIAL }
  },
  series: eSeries,
  graphic: [
    letter('E', 52, 1023),
    txt('ΔF at 525 nm', 45, 1168, 14, { bold: true, rot: true }),
    txt('Oligonucleotide concentration [M]', 182, 1313, 11, { bold: true })
  ]
})

// ---------- layer F ----------
const colX = [351, 477, 613, 747]
const rowEdges = [1104, 1123, 1142, 1161, 1180, 1198, 1217]
const tableGraphic = [letter('F', 368, 1023)]
tableHead.forEach((h, i) => {
  tableGraphic.push(txt(h, (colX[i] + colX[i + 1]) / 2, (rowEdges[0] + rowEdges[1]) / 2, 10, { color: '#111' }))
})
tableNames.forEach((n, r) => {
  const y = (rowEdges[r + 1] + rowEdges[r + 2]) / 2
  tableGraphic.push(txt(n, (colX[1] + colX[2]) / 2, y, 10, { color: '#111' }))
  tableGraphic.push(txt(tableKa[r], (colX[2] + colX[3]) / 2, y, 10, { color: '#111' }))
})
let startRow = 0
tableGroups.forEach((g, k) => {
  const top = rowEdges[startRow + 1]
  const bottom = rowEdges[startRow + 1 + tableGroupRows[k]]
  tableGraphic.push(txt(g, (colX[0] + colX[1]) / 2, (top + bottom) / 2, 10, { color: '#111' }))
  startRow += tableGroupRows[k]
})
tableGraphic.push(rule(colX[0], rowEdges[0], colX[3], rowEdges[0], 3))
tableGraphic.push(rule(colX[0], rowEdges[1], colX[3], rowEdges[1], 2))
tableGraphic.push(rule(colX[1], rowEdges[2], colX[3], rowEdges[2], 1, '#555'))
tableGraphic.push(rule(colX[1], rowEdges[3], colX[3], rowEdges[3], 1, '#555'))
tableGraphic.push(rule(colX[0], rowEdges[4], colX[3], rowEdges[4], 1, '#555'))
tableGraphic.push(rule(colX[1], rowEdges[5], colX[3], rowEdges[5], 1, '#555'))
tableGraphic.push(rule(colX[0], rowEdges[6], colX[3], rowEdges[6], 3))
tableGraphic.push(rule(colX[1], rowEdges[0], colX[1], rowEdges[6], 1, '#777'))
tableGraphic.push(rule(colX[2], rowEdges[0], colX[2], rowEdges[6], 1, '#777'))

addLayer({ graphic: tableGraphic })
</script>
</body>
</html>
